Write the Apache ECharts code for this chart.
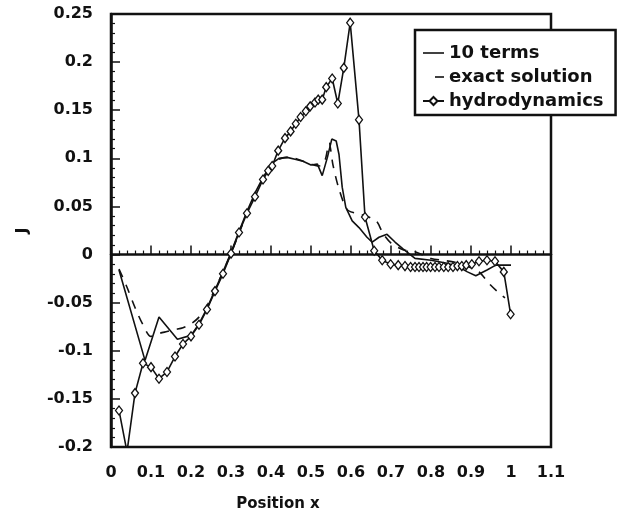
<!DOCTYPE html>
<html>
<head>
<meta charset="utf-8">
<title>J vs position</title>
<script src="https://cdn.jsdelivr.net/npm/echarts@6/dist/echarts.min.js"></script>
<style>
	html, body { margin: 0; padding: 0; background: #fff; }
	#chart { width: 626px; height: 524px; }
</style>
</head>
<body>
<div id="chart"></div>
<script>
// ticks
const xTicks = [0, 0.1, 0.2, 0.3, 0.4, 0.5, 0.6, 0.7, 0.8, 0.9, 1, 1.1];
const yTicks = [-0.2, -0.15, -0.1, -0.05, 0, 0.05, 0.1, 0.15, 0.2, 0.25];

// 10 terms
const termsX = [0.02, 0.085, 0.12, 0.166, 0.2, 0.22, 0.24, 0.26, 0.28, 0.3, 0.32, 0.34, 0.36, 0.38, 0.4, 0.42, 0.44, 0.46, 0.48, 0.5, 0.516, 0.528, 0.541, 0.552, 0.563, 0.57, 0.578, 0.587, 0.603, 0.62, 0.64, 0.653, 0.67, 0.69, 0.71, 0.73, 0.76, 0.8, 0.84, 0.87, 0.891, 0.912, 0.94, 0.962, 1.0];
const termsY = [-0.016, -0.11, -0.065, -0.088, -0.084, -0.072, -0.056, -0.037, -0.018, 0.002, 0.024, 0.045, 0.064, 0.08, 0.094, 0.1, 0.101, 0.099, 0.097, 0.093, 0.094, 0.082, 0.101, 0.12, 0.118, 0.104, 0.07, 0.049, 0.035, 0.028, 0.018, 0.013, 0.018, 0.021, 0.013, 0.006, -0.004, -0.006, -0.009, -0.013, -0.018, -0.022, -0.016, -0.011, -0.011];

// exact solution
const exactX = [0.02, 0.04, 0.06, 0.08, 0.1, 0.12, 0.14, 0.16, 0.18, 0.2, 0.22, 0.24, 0.26, 0.28, 0.3, 0.32, 0.34, 0.36, 0.38, 0.4, 0.42, 0.44, 0.46, 0.48, 0.5, 0.52, 0.535, 0.545, 0.555, 0.57, 0.59, 0.61, 0.63, 0.65, 0.665, 0.68, 0.7, 0.73, 0.76, 0.8, 0.83, 0.86, 0.89, 0.92, 0.945, 0.965, 0.985];
const exactY = [-0.015, -0.034, -0.055, -0.073, -0.085, -0.082, -0.08, -0.078, -0.076, -0.072, -0.065, -0.053, -0.036, -0.018, 0.001, 0.022, 0.043, 0.062, 0.079, 0.092, 0.099, 0.101, 0.1, 0.097, 0.094, 0.092, 0.098, 0.116, 0.093, 0.068, 0.047, 0.043, 0.041, 0.038, 0.034, 0.022, 0.012, 0.005, 0.003, -0.004, -0.006, -0.008, -0.012, -0.018, -0.03, -0.038, -0.045];

// hydrodynamics
const hydroX = [0.02, 0.04, 0.06, 0.08, 0.1, 0.12, 0.14, 0.16, 0.18, 0.2, 0.22, 0.24, 0.26, 0.28, 0.3, 0.32, 0.34, 0.36, 0.38, 0.393, 0.403, 0.418, 0.435, 0.449, 0.462, 0.474, 0.487, 0.498, 0.51, 0.518, 0.528, 0.538, 0.553, 0.567, 0.582, 0.598, 0.62, 0.635, 0.658, 0.678, 0.699, 0.718, 0.735, 0.749, 0.76, 0.77, 0.78, 0.789, 0.799, 0.81, 0.82, 0.832, 0.843, 0.855, 0.866, 0.877, 0.888, 0.902, 0.92, 0.94, 0.96, 0.982, 0.999];
const hydroY = [-0.162, -0.205, -0.144, -0.113, -0.117, -0.129, -0.122, -0.106, -0.093, -0.085, -0.073, -0.057, -0.038, -0.02, 0.001, 0.023, 0.043, 0.06, 0.078, 0.087, 0.092, 0.108, 0.121, 0.128, 0.136, 0.143, 0.149, 0.154, 0.158, 0.161, 0.161, 0.174, 0.183, 0.157, 0.194, 0.241, 0.14, 0.039, 0.004, -0.006, -0.01, -0.011, -0.012, -0.013, -0.013, -0.013, -0.013, -0.013, -0.013, -0.013, -0.013, -0.013, -0.013, -0.013, -0.012, -0.012, -0.011, -0.01, -0.007, -0.006, -0.007, -0.018, -0.062];

const ink = '#111';
const font = 'DejaVu Sans';

const pairs = (xs, ys) => xs.map((x, i) => [x, ys[i]]);
const fmt = (v) => String(+v.toFixed(2));

const chart = echarts.init(document.getElementById('chart'));

const option = {
	backgroundColor: '#fff',
	animation: false,
	grid: {
		left: 111,
		top: 14,
		right: 75,
		bottom: 77,
		containLabel: false,
		outerBoundsMode: 'none',
		show: true,
		borderColor: ink,
		borderWidth: 2.5,
	},
	legend: {
		orient: 'vertical',
		left: 415,
		top: 30,
		padding: [14, 12, 5, 7],
		itemGap: 6,
		itemWidth: 21,
		itemHeight: 10,
		backgroundColor: '#fff',
		borderColor: ink,
		borderWidth: 2.5,
		borderRadius: 0,
		textStyle: { fontFamily: font, fontWeight: 'bold', fontSize: 18, color: ink },
		data: [
			// long solid stroke
			{ name: '10 terms', icon: 'path://M0,4 L21,4 L21,5.6 L0,5.6 Z' },
			// single short dash, right aligned
			{ name: 'exact solution', icon: 'path://M0,4 M12,4 L21,4 L21,5.6 L12,5.6 Z' },
			{ name: 'hydrodynamics' },
		],
	},
	xAxis: {
		type: 'value',
		min: xTicks[0],
		max: xTicks[xTicks.length - 1],
		interval: 0.1,
		name: 'Position x',
		nameLocation: 'middle',
		nameGap: 50,
		nameTextStyle: { fontFamily: font, fontWeight: 'bold', fontSize: 15, color: ink, padding: [0, 106, 0, 0] },
		axisLine: { lineStyle: { color: ink, width: 2.5 } },
		axisTick: { inside: true, length: 9, lineStyle: { color: ink, width: 1.5 } },
		minorTick: { show: true, splitNumber: 5, length: 4, lineStyle: { color: ink, width: 1.2 } },
		axisLabel: { margin: 18, fontFamily: font, fontWeight: 'bold', fontSize: 16, color: ink, formatter: fmt },
		splitLine: { show: false },
	},
	yAxis: {
		type: 'value',
		min: yTicks[0],
		max: yTicks[yTicks.length - 1],
		interval: 0.05,
		name: 'J',
		nameLocation: 'middle',
		nameGap: 80,
		nameTextStyle: { fontFamily: font, fontWeight: 'bold', fontSize: 16, color: ink },
		axisLine: { lineStyle: { color: ink, width: 2.5 } },
		axisTick: { inside: true, length: 9, lineStyle: { color: ink, width: 1.5 } },
		minorTick: { show: true, splitNumber: 5, length: 4, lineStyle: { color: ink, width: 1.2 } },
		axisLabel: { margin: 18, fontFamily: font, fontWeight: 'bold', fontSize: 16, color: ink, formatter: fmt },
		splitLine: { show: false },
	},
	series: [
		{
			name: '10 terms',
			type: 'line',
			data: pairs(termsX, termsY),
			symbol: 'none',
			clip: true,
			lineStyle: { color: ink, width: 1.6 },
			itemStyle: { color: ink },
		},
		{
			name: 'exact solution',
			type: 'line',
			data: pairs(exactX, exactY),
			symbol: 'none',
			smooth: 0.3,
			clip: true,
			lineStyle: { color: ink, width: 1.6, type: [9, 8] },
			itemStyle: { color: ink },
		},
		{
			name: 'hydrodynamics',
			type: 'line',
			data: pairs(hydroX, hydroY),
			symbol: 'diamond',
			symbolSize: [7, 9],
			clip: true,
			lineStyle: { color: ink, width: 1.6 },
			itemStyle: { color: '#fff', borderColor: ink, borderWidth: 1.3 },
			z: 3,
		},
	],
};

chart.setOption(option);
</script>
</body>
</html>
